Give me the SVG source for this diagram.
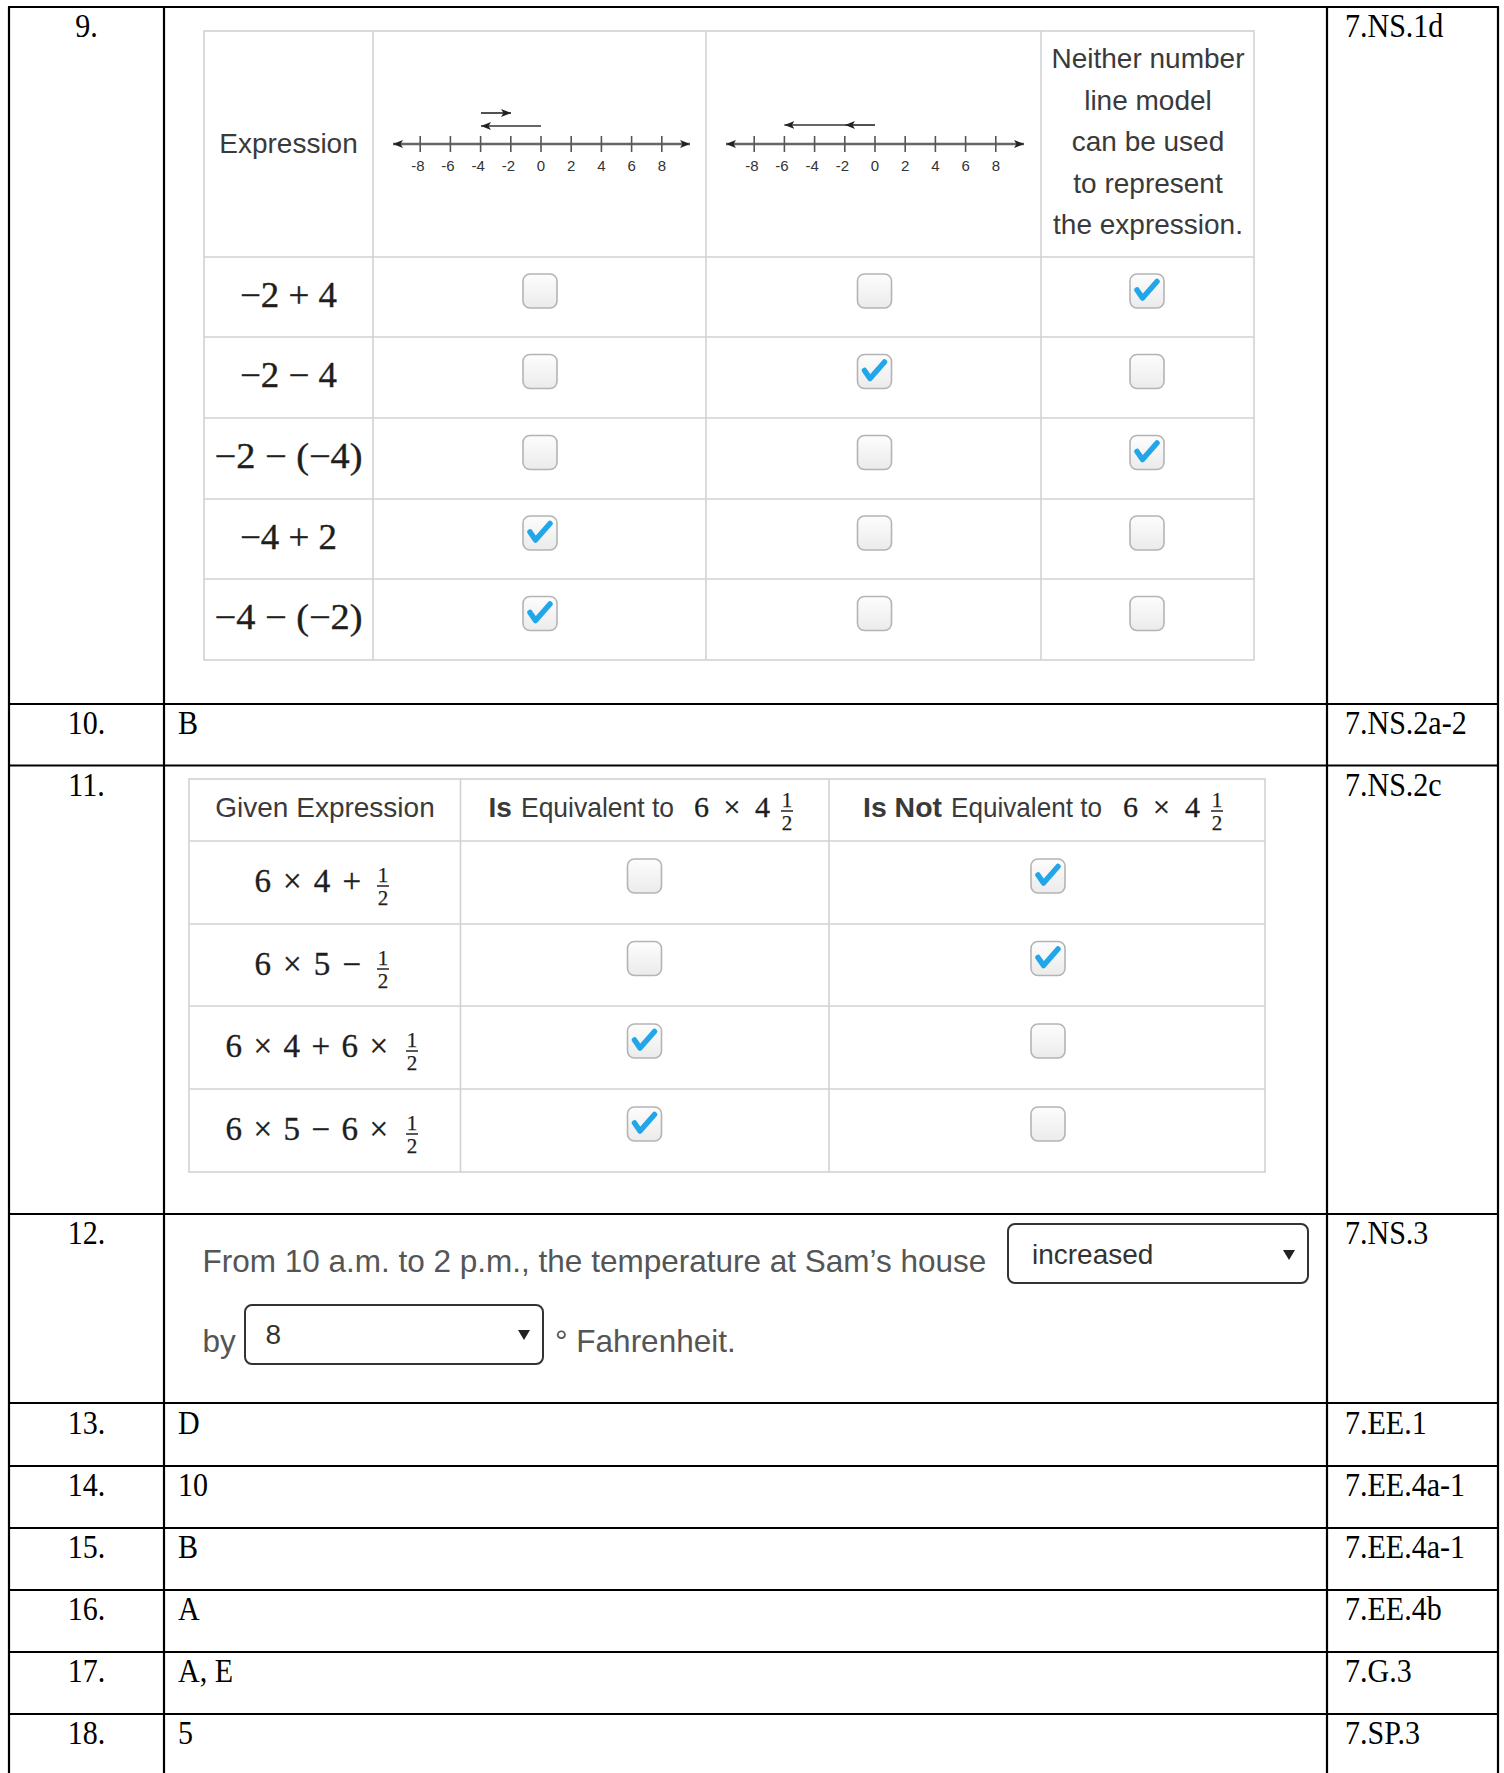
<svg xmlns="http://www.w3.org/2000/svg" width="1504" height="1773" viewBox="0 0 1504 1773">
<style>
.grid{stroke:#000;stroke-width:2.2;fill:none}
.ig{stroke:#d2d2d2;stroke-width:1.6;fill:none}
.tr{font-family:"Liberation Serif","Times New Roman",serif;font-size:33px;fill:#000}
.ss{font-family:"Liberation Sans",Arial,sans-serif;font-size:28px;fill:#3a3a3a}
.b{font-weight:bold}
.m{font-family:"Liberation Serif","Times New Roman",serif;fill:#1e1e1e;stroke:#1e1e1e;stroke-width:0.35}
.fr{font-family:"Liberation Serif","Times New Roman",serif;font-size:21px;fill:#1e1e1e;stroke:#1e1e1e;stroke-width:0.25;text-anchor:middle}
.fb{stroke:#222;stroke-width:1.5}
.nl{font-family:"Liberation Sans Narrow","Liberation Sans",Arial,sans-serif;font-size:15px;fill:#333}
.ax{stroke:#666;stroke-width:2.4;fill:none}
.tk{stroke:#555;stroke-width:1.6}
.ar{stroke:#333;stroke-width:1.7;fill:none}
.q12{font-family:"Liberation Sans",Arial,sans-serif;font-size:31.5px;fill:#555}
.dd{fill:#fff;stroke:#333;stroke-width:2}
.ddt{font-family:"Liberation Sans",Arial,sans-serif;font-size:28px;fill:#333}
</style>
<defs>
<linearGradient id="cbg" x1="0" y1="0" x2="0" y2="1">
<stop offset="0" stop-color="#fdfdfd"/>
<stop offset="1" stop-color="#ebebeb"/>
</linearGradient>
<marker id="ah" viewBox="0 0 10 8" refX="10" refY="4" markerWidth="10" markerHeight="8" markerUnits="userSpaceOnUse" orient="auto-start-reverse">
<path d="M0,0 L10,4 L0,8 L2.5,4 z" fill="#222"/>
</marker>
<g id="cb">
<rect x="-17" y="-17" width="34" height="34" rx="7" fill="url(#cbg)" stroke="#b4b4b4" stroke-width="1.6"/>
</g>
<g id="cbc">
<rect x="-17" y="-17" width="34" height="34" rx="7" fill="url(#cbg)" stroke="#b4b4b4" stroke-width="1.6"/>
<path d="M-10,-1 L-4.5,7 L10,-9.5" fill="none" stroke="#22a6ea" stroke-width="5.5" stroke-linecap="round" stroke-linejoin="round"/>
</g>
</defs>
<rect width="1504" height="1773" fill="#fff"/>

<g id="outer-grid" class="grid">
<line x1="9" y1="7" x2="9" y2="1773"/>
<line x1="1498" y1="7" x2="1498" y2="1773"/>
<line x1="164" y1="7" x2="164" y2="1773"/>
<line x1="1327" y1="7" x2="1327" y2="1773"/>
<line x1="8" y1="7" x2="1499" y2="7"/>
<line x1="8" y1="704" x2="1499" y2="704"/>
<line x1="8" y1="765.5" x2="1499" y2="765.5"/>
<line x1="8" y1="1214" x2="1499" y2="1214"/>
<line x1="8" y1="1403" x2="1499" y2="1403"/>
<line x1="8" y1="1466" x2="1499" y2="1466"/>
<line x1="8" y1="1528" x2="1499" y2="1528"/>
<line x1="8" y1="1590" x2="1499" y2="1590"/>
<line x1="8" y1="1652" x2="1499" y2="1652"/>
<line x1="8" y1="1714" x2="1499" y2="1714"/>
</g>

<g id="row-numbers" class="tr" text-anchor="middle" transform="scale(0.91 1)">
<text x="95" y="37">9.</text>
<text x="95" y="734">10.</text>
<text x="95" y="796">11.</text>
<text x="95" y="1244">12.</text>
<text x="95" y="1434">13.</text>
<text x="95" y="1496">14.</text>
<text x="95" y="1558">15.</text>
<text x="95" y="1620">16.</text>
<text x="95" y="1682">17.</text>
<text x="95" y="1744">18.</text>
</g>

<g id="answers" class="tr" transform="scale(0.91 1)">
<text x="195.6" y="734">B</text>
<text x="195.6" y="1434">D</text>
<text x="195.6" y="1496">10</text>
<text x="195.6" y="1558">B</text>
<text x="195.6" y="1620">A</text>
<text x="195.6" y="1682">A, E</text>
<text x="195.6" y="1744">5</text>
</g>

<g id="standards" class="tr" transform="scale(0.91 1)">
<text x="1478" y="37">7.NS.1d</text>
<text x="1478" y="734">7.NS.2a-2</text>
<text x="1478" y="796">7.NS.2c</text>
<text x="1478" y="1244">7.NS.3</text>
<text x="1478" y="1434">7.EE.1</text>
<text x="1478" y="1496">7.EE.4a-1</text>
<text x="1478" y="1558">7.EE.4a-1</text>
<text x="1478" y="1620">7.EE.4b</text>
<text x="1478" y="1682">7.G.3</text>
<text x="1478" y="1744">7.SP.3</text>
</g>

<g id="q9-table">
<g class="ig">
<rect x="204" y="31" width="1050" height="629"/>
<line x1="373" y1="31" x2="373" y2="660"/>
<line x1="706" y1="31" x2="706" y2="660"/>
<line x1="1041" y1="31" x2="1041" y2="660"/>
<line x1="204" y1="257" x2="1254" y2="257"/>
<line x1="204" y1="337" x2="1254" y2="337"/>
<line x1="204" y1="418" x2="1254" y2="418"/>
<line x1="204" y1="499" x2="1254" y2="499"/>
<line x1="204" y1="579" x2="1254" y2="579"/>
</g>
<text class="ss" x="288.5" y="153" text-anchor="middle">Expression</text>
<g class="ss" text-anchor="middle">
<text x="1148" y="68">Neither number</text>
<text x="1148" y="109.5">line model</text>
<text x="1148" y="151">can be used</text>
<text x="1148" y="192.5">to represent</text>
<text x="1148" y="234">the expression.</text>
</g>

<g id="numberline-1">
<line class="ax" x1="393" y1="144" x2="690" y2="144" marker-start="url(#ah)" marker-end="url(#ah)"/>
<g class="tk">
<line x1="420.2" y1="136" x2="420.2" y2="152"/>
<line x1="450.4" y1="136" x2="450.4" y2="152"/>
<line x1="480.6" y1="136" x2="480.6" y2="152"/>
<line x1="510.8" y1="136" x2="510.8" y2="152"/>
<line x1="541" y1="136" x2="541" y2="152"/>
<line x1="571.2" y1="136" x2="571.2" y2="152"/>
<line x1="601.4" y1="136" x2="601.4" y2="152"/>
<line x1="631.6" y1="136" x2="631.6" y2="152"/>
<line x1="661.8" y1="136" x2="661.8" y2="152"/>
</g>
<g class="nl">
<text x="424.5" y="171" text-anchor="end">-8</text>
<text x="454.7" y="171" text-anchor="end">-6</text>
<text x="484.9" y="171" text-anchor="end">-4</text>
<text x="515.1" y="171" text-anchor="end">-2</text>
<text x="541" y="171" text-anchor="middle">0</text>
<text x="571.2" y="171" text-anchor="middle">2</text>
<text x="601.4" y="171" text-anchor="middle">4</text>
<text x="631.6" y="171" text-anchor="middle">6</text>
<text x="661.8" y="171" text-anchor="middle">8</text>
</g>
<line class="ar" x1="481" y1="113" x2="511" y2="113" marker-end="url(#ah)"/>
<line class="ar" x1="541" y1="126" x2="481" y2="126" marker-end="url(#ah)"/>
</g>

<g id="numberline-2">
<line class="ax" x1="726" y1="144" x2="1024" y2="144" marker-start="url(#ah)" marker-end="url(#ah)"/>
<g class="tk">
<line x1="754.2" y1="136" x2="754.2" y2="152"/>
<line x1="784.4" y1="136" x2="784.4" y2="152"/>
<line x1="814.6" y1="136" x2="814.6" y2="152"/>
<line x1="844.8" y1="136" x2="844.8" y2="152"/>
<line x1="875" y1="136" x2="875" y2="152"/>
<line x1="905.2" y1="136" x2="905.2" y2="152"/>
<line x1="935.4" y1="136" x2="935.4" y2="152"/>
<line x1="965.6" y1="136" x2="965.6" y2="152"/>
<line x1="995.8" y1="136" x2="995.8" y2="152"/>
</g>
<g class="nl">
<text x="758.5" y="171" text-anchor="end">-8</text>
<text x="788.7" y="171" text-anchor="end">-6</text>
<text x="818.9" y="171" text-anchor="end">-4</text>
<text x="849.1" y="171" text-anchor="end">-2</text>
<text x="875" y="171" text-anchor="middle">0</text>
<text x="905.2" y="171" text-anchor="middle">2</text>
<text x="935.4" y="171" text-anchor="middle">4</text>
<text x="965.6" y="171" text-anchor="middle">6</text>
<text x="995.8" y="171" text-anchor="middle">8</text>
</g>
<line class="ar" x1="875" y1="125" x2="845" y2="125" marker-end="url(#ah)"/>
<line class="ar" x1="845" y1="125" x2="784.4" y2="125" marker-end="url(#ah)"/>
</g>

<g class="m" font-size="36">
<text x="240" y="307" textLength="97" lengthAdjust="spacingAndGlyphs">−2 + 4</text>
<text x="240" y="387" textLength="97" lengthAdjust="spacingAndGlyphs">−2 − 4</text>
<text x="214.5" y="468" textLength="148" lengthAdjust="spacingAndGlyphs">−2 − (−4)</text>
<text x="240" y="549" textLength="97" lengthAdjust="spacingAndGlyphs">−4 + 2</text>
<text x="214.5" y="629" textLength="148" lengthAdjust="spacingAndGlyphs">−4 − (−2)</text>
</g>

<g id="q9-checkboxes">
<use href="#cb" x="540" y="291"/>
<use href="#cb" x="874.5" y="291"/>
<use href="#cbc" x="1147" y="291"/>
<use href="#cb" x="540" y="371.5"/>
<use href="#cbc" x="874.5" y="371.5"/>
<use href="#cb" x="1147" y="371.5"/>
<use href="#cb" x="540" y="452.5"/>
<use href="#cb" x="874.5" y="452.5"/>
<use href="#cbc" x="1147" y="452.5"/>
<use href="#cbc" x="540" y="533"/>
<use href="#cb" x="874.5" y="533"/>
<use href="#cb" x="1147" y="533"/>
<use href="#cbc" x="540" y="613.5"/>
<use href="#cb" x="874.5" y="613.5"/>
<use href="#cb" x="1147" y="613.5"/>
</g>
</g>

<g id="q11-table">
<g class="ig">
<rect x="189" y="779" width="1076" height="393"/>
<line x1="460.5" y1="779" x2="460.5" y2="1172"/>
<line x1="829" y1="779" x2="829" y2="1172"/>
<line x1="189" y1="841" x2="1265" y2="841"/>
<line x1="189" y1="924" x2="1265" y2="924"/>
<line x1="189" y1="1006" x2="1265" y2="1006"/>
<line x1="189" y1="1089" x2="1265" y2="1089"/>
</g>
<text class="ss" x="325" y="817" text-anchor="middle">Given Expression</text>
<text class="ss b" x="488.5" y="817">Is</text>
<text class="ss" x="521" y="817" textLength="153" lengthAdjust="spacingAndGlyphs">Equivalent to</text>
<text class="m" font-size="30" x="694" y="817" textLength="76" lengthAdjust="spacing">6 × 4</text>
<text class="fr" x="787" y="807">1</text>
<line class="fb" x1="781" y1="811" x2="793" y2="811"/>
<text class="fr" x="787" y="830">2</text>

<text class="ss b" x="863" y="817" textLength="79" lengthAdjust="spacingAndGlyphs">Is Not</text>
<text class="ss" x="951" y="817" textLength="151" lengthAdjust="spacingAndGlyphs">Equivalent to</text>
<text class="m" font-size="30" x="1123" y="817" textLength="77" lengthAdjust="spacing">6 × 4</text>
<text class="fr" x="1217" y="807">1</text>
<line class="fb" x1="1211" y1="811" x2="1223" y2="811"/>
<text class="fr" x="1217" y="830">2</text>

<g class="m" font-size="33">
<text x="254.5" y="892" textLength="106.5" lengthAdjust="spacing">6 × 4 +</text>
<text x="254.5" y="975" textLength="106.5" lengthAdjust="spacing">6 × 5 −</text>
<text x="225.5" y="1057" textLength="162.5" lengthAdjust="spacing">6 × 4 + 6 ×</text>
<text x="225.5" y="1140" textLength="162.5" lengthAdjust="spacing">6 × 5 − 6 ×</text>
</g>
<text class="fr" x="383" y="882">1</text>
<line class="fb" x1="377" y1="886" x2="389" y2="886"/>
<text class="fr" x="383" y="905">2</text>
<text class="fr" x="383" y="965">1</text>
<line class="fb" x1="377" y1="969" x2="389" y2="969"/>
<text class="fr" x="383" y="988">2</text>
<text class="fr" x="412" y="1047">1</text>
<line class="fb" x1="406" y1="1051" x2="418" y2="1051"/>
<text class="fr" x="412" y="1070">2</text>
<text class="fr" x="412" y="1130">1</text>
<line class="fb" x1="406" y1="1134" x2="418" y2="1134"/>
<text class="fr" x="412" y="1153">2</text>

<g id="q11-checkboxes">
<use href="#cb" x="644.5" y="876"/>
<use href="#cbc" x="1048" y="876"/>
<use href="#cb" x="644.5" y="958.5"/>
<use href="#cbc" x="1048" y="958.5"/>
<use href="#cbc" x="644.5" y="1041"/>
<use href="#cb" x="1048" y="1041"/>
<use href="#cbc" x="644.5" y="1124"/>
<use href="#cb" x="1048" y="1124"/>
</g>
</g>

<g id="q12">
<text class="q12" x="202.5" y="1272">From 10 a.m. to 2 p.m., the temperature at Sam’s house</text>
<g id="dropdown-increased">
<rect class="dd" x="1008" y="1224" width="300" height="59" rx="7"/>
<text class="ddt" x="1032" y="1264">increased</text>
<path d="M1283,1250 L1295,1250 L1289,1260 z" fill="#222"/>
</g>
<text class="q12" x="202.5" y="1352">by</text>
<g id="dropdown-8">
<rect class="dd" x="245" y="1305" width="298" height="59" rx="7"/>
<text class="ddt" x="265.5" y="1344">8</text>
<path d="M518,1330 L530,1330 L524,1340 z" fill="#222"/>
</g>
<text class="q12" x="555" y="1352">° Fahrenheit.</text>
</g>
</svg>
